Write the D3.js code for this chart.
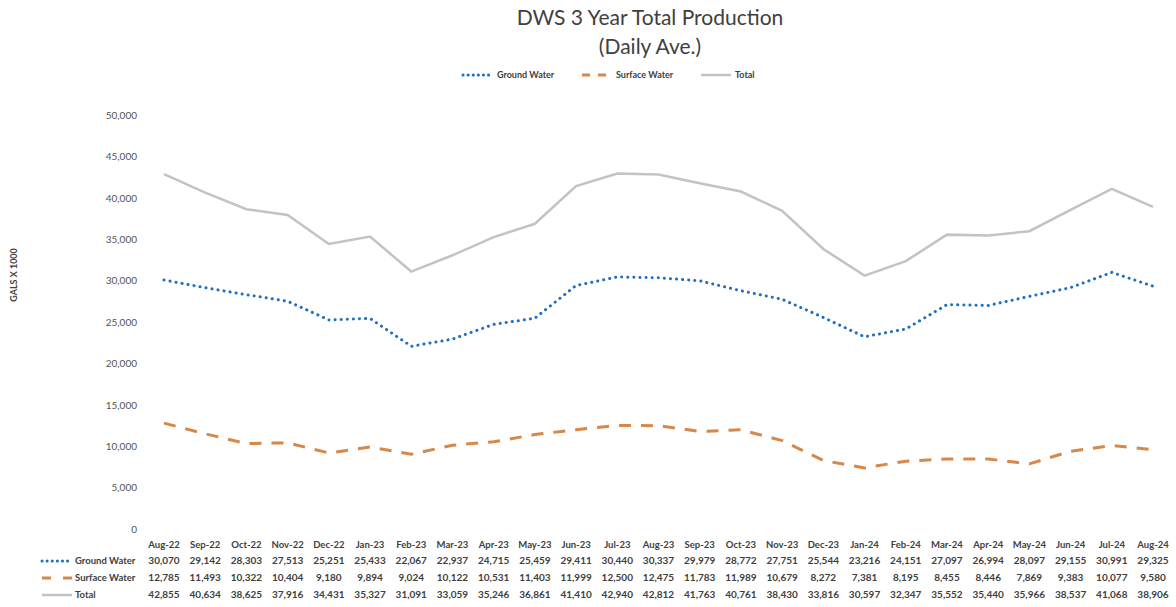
<!DOCTYPE html>
<html>
<head>
<meta charset="utf-8">
<script src="https://cdn.jsdelivr.net/npm/d3@7"></script>
<style>
  body { margin: 0; background: #fff; }
  svg text { font-family: Lato, "Open Sans", sans-serif; }
</style>
</head>
<body>
<div id="chart"></div>
<script>
var months = ['Aug-22','Sep-22','Oct-22','Nov-22','Dec-22','Jan-23','Feb-23','Mar-23','Apr-23','May-23','Jun-23','Jul-23','Aug-23','Sep-23','Oct-23','Nov-23','Dec-23','Jan-24','Feb-24','Mar-24','Apr-24','May-24','Jun-24','Jul-24','Aug-24'];
var groundWater = [30070,29142,28303,27513,25251,25433,22067,22937,24715,25459,29411,30440,30337,29979,28772,27751,25544,23216,24151,27097,26994,28097,29155,30991,29325];
var surfaceWater = [12785,11493,10322,10404,9180,9894,9024,10122,10531,11403,11999,12500,12475,11783,11989,10679,8272,7381,8195,8455,8446,7869,9383,10077,9580];
var total = [42855,40634,38625,37916,34431,35327,31091,33059,35246,36861,41410,42940,42812,41763,40761,38430,33816,30597,32347,35552,35440,35966,38537,41068,38906];
var yTicks = [0,5000,10000,15000,20000,25000,30000,35000,40000,45000,50000];

var series = [
  {name: 'Ground Water', values: groundWater, color: '#1f6ebf', dash: '0.1 6', width: 3, cap: 'round'},
  {name: 'Surface Water', values: surfaceWater, color: '#d6874a', dash: '12 10', width: 3, cap: 'butt'},
  {name: 'Total', values: total, color: '#c3c3c3', dash: null, width: 2.5, cap: 'butt'}
];

var W = 1176, H = 607;
var svg = d3.select('#chart').append('svg').attr('width', W).attr('height', H);

var x = d3.scalePoint().domain(months).range([164, 1153]);
var y = d3.scaleLinear().domain([0, 50000]).range([529, 115]);
var fmt = d3.format(',');

// title
svg.append('text').attr('x', 650).attr('y', 25).attr('text-anchor', 'middle')
  .attr('font-size', 21).attr('fill', '#404040').text('DWS 3 Year Total Production');
svg.append('text').attr('x', 650).attr('y', 54).attr('text-anchor', 'middle')
  .attr('font-size', 21).attr('fill', '#404040').text('(Daily Ave.)');

// y axis
var yAxis = svg.append('g').attr('transform', 'translate(137,0)')
  .call(d3.axisLeft(y).tickValues(yTicks).tickFormat(fmt).tickSize(0).tickPadding(0));
yAxis.select('.domain').remove();
yAxis.selectAll('text').attr('font-size', 10).attr('fill', '#555');

svg.append('text').attr('transform', 'translate(17,275) rotate(-90)')
  .attr('text-anchor', 'middle').attr('font-size', 9).attr('font-weight', 'bold')
  .attr('fill', '#404040').text('GALS X 1000');

// lines
var line = d3.line().x(function(d, i) { return x(months[i]); }).y(function(d) { return y(d); });
series.forEach(function(s) {
  svg.append('path').datum(s.values)
    .attr('d', line).attr('fill', 'none')
    .attr('stroke', s.color).attr('stroke-width', s.width)
    .attr('stroke-dasharray', s.dash).attr('stroke-linecap', s.cap);
});

// legend
var legX = [463, 582, 701];
series.forEach(function(s, i) {
  var g = svg.append('g').attr('transform', 'translate(' + legX[i] + ',75)');
  g.append('line').attr('x1', 0).attr('x2', 30).attr('y1', 0).attr('y2', 0)
    .attr('stroke', s.color).attr('stroke-width', s.width)
    .attr('stroke-dasharray', s.name == 'Surface Water' ? '8 8' : (s.dash ? '0.1 5' : null))
    .attr('stroke-linecap', s.cap);
  g.append('text').attr('x', 34).attr('y', 3).attr('font-size', 9).attr('font-weight', 'bold')
    .attr('fill', '#404040').text(s.name);
});

// data table
var table = svg.append('g');
table.selectAll('.month').data(months).enter().append('text')
  .attr('x', function(d) { return x(d); }).attr('y', 548)
  .attr('text-anchor', 'middle').attr('font-size', 9.5).attr('font-weight', 'bold')
  .attr('fill', '#404040').text(function(d) { return d; });

var rowY = [564, 581, 598];
series.forEach(function(s, r) {
  table.append('line').attr('x1', 42).attr('x2', 72)
    .attr('y1', rowY[r] - 3).attr('y2', rowY[r] - 3)
    .attr('stroke', s.color).attr('stroke-width', s.width)
    .attr('stroke-dasharray', s.name == 'Surface Water' ? '9 12' : (s.dash ? '0.1 5' : null))
    .attr('stroke-linecap', s.cap);
  table.append('text').attr('x', 75).attr('y', rowY[r]).attr('font-size', 9.5)
    .attr('font-weight', 'bold').attr('fill', '#404040').text(s.name);
  table.selectAll('.v' + r).data(s.values).enter().append('text')
    .attr('x', function(d, i) { return x(months[i]); }).attr('y', rowY[r])
    .attr('text-anchor', 'middle').attr('font-size', 10).attr('font-weight', 'bold')
    .attr('fill', '#404040').text(function(d) { return fmt(d); });
});
</script>
</body>
</html>
